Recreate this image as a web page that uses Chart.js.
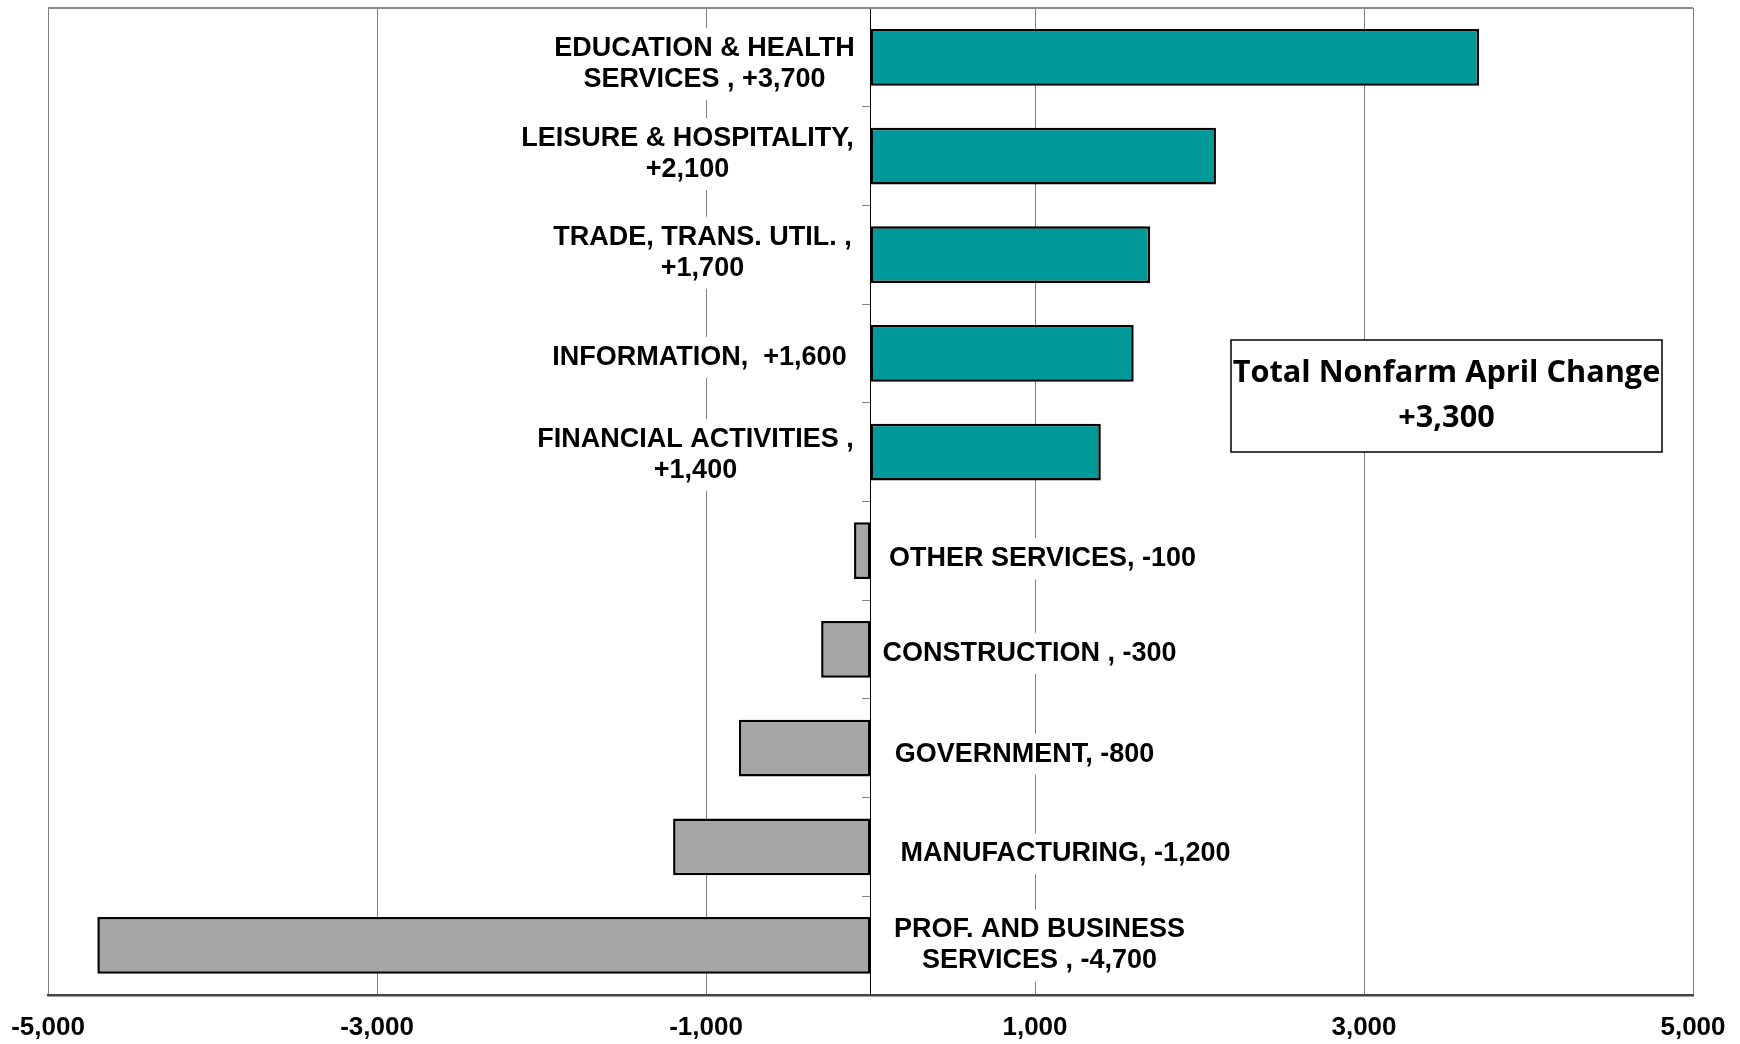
<!DOCTYPE html>
<html>
<head>
<meta charset="utf-8">
<script src="https://cdn.jsdelivr.net/npm/chart.js@4/dist/chart.umd.min.js"></script>
<style>
  html, body { margin: 0; padding: 0; background: #fff; }
  #wrap { width: 1740px; height: 1044px; position: relative; }
</style>
</head>
<body>
<div id="wrap"><canvas id="c" width="1740" height="1044"></canvas></div>
<script>
// ---- DATA ----
const categories = [
  'EDUCATION & HEALTH SERVICES', 'LEISURE & HOSPITALITY', 'TRADE, TRANS. UTIL.',
  'INFORMATION', 'FINANCIAL ACTIVITIES', 'OTHER SERVICES', 'CONSTRUCTION',
  'GOVERNMENT', 'MANUFACTURING', 'PROF. AND BUSINESS SERVICES'
];
const values = [3700, 2100, 1700, 1600, 1400, -100, -300, -800, -1200, -4700];
const labelLines = [
  ['EDUCATION & HEALTH', 'SERVICES , +3,700'],
  ['LEISURE & HOSPITALITY,', '+2,100'],
  ['TRADE, TRANS. UTIL. ,', '+1,700'],
  ['INFORMATION,  +1,600'],
  ['FINANCIAL ACTIVITIES ,', '+1,400'],
  ['OTHER SERVICES, -100'],
  ['CONSTRUCTION , -300'],
  ['GOVERNMENT, -800'],
  ['MANUFACTURING, -1,200'],
  ['PROF. AND BUSINESS', 'SERVICES , -4,700']
];
const xMin = -5000, xMax = 5000, xStep = 2000;
const totalTitle = 'Total Nonfarm April Change';
const totalValue = '+3,300';

// ---- LAYOUT / STYLE (not data) ----
const labelOffsets = [  // [dx from zero line to label block centre, dy from bar centre]
  [-166, 7], [-183, -2], [-168, -2], [-171, 4], [-175, 3],
  [172, 8], [159, 4], [154, 6], [195, 7], [169, 0]
];
const LABEL_FONT = 'bold 27px "Liberation Sans", Arial, sans-serif';
const LINE_H = 31;
const posColor = '#009999';
const negColor = '#A6A6A6';

const labelsPlugin = {
  id: 'customLabels',
  afterDatasetsDraw(chart) {
    const ctx = chart.ctx;
    const xs = chart.scales.x, ys = chart.scales.y;
    const zero = xs.getPixelForValue(0);
    ctx.save();
    ctx.font = LABEL_FONT;
    ctx.textAlign = 'center';
    ctx.textBaseline = 'middle';
    labelLines.forEach((lines, i) => {
      const cx = zero + labelOffsets[i][0];
      const cy = ys.getPixelForValue(i) + labelOffsets[i][1];
      const n = lines.length;
      let w = 0;
      lines.forEach(l => { w = Math.max(w, ctx.measureText(l).width); });
      ctx.fillStyle = '#fff';
      ctx.fillRect(cx - w / 2 - 5, cy - n * LINE_H / 2 - 5, w + 10, n * LINE_H + 10);
      ctx.fillStyle = '#000';
      lines.forEach((l, k) => {
        ctx.fillText(l, cx, cy + (k - (n - 1) / 2) * LINE_H);
      });
    });
    // Total box
    const ca = chart.chartArea;
    const bx = 1231, by = 340, bw = 431, bh = 112;
    ctx.fillStyle = '#fff';
    ctx.fillRect(bx, by, bw, bh);
    ctx.strokeStyle = '#000';
    ctx.lineWidth = 1.5;
    ctx.strokeRect(bx, by, bw, bh);
    const fam = '"Open Sans", "Liberation Sans", sans-serif';
    ctx.font = 'bold 30px ' + fam;
    const m = ctx.measureText(totalTitle).width;
    const fs = 30 * 428 / m;
    ctx.font = 'bold ' + fs.toFixed(1) + 'px ' + fam;
    ctx.fillStyle = '#000';
    ctx.fillText(totalTitle, bx + bw / 2, 373);
    ctx.fillText(totalValue, bx + bw / 2, 418);
    // top border
    ctx.strokeStyle = '#8a8a8a';
    ctx.lineWidth = 2;
    ctx.beginPath();
    ctx.moveTo(ca.left, ca.top);
    ctx.lineTo(ca.right, ca.top);
    ctx.stroke();
    ctx.restore();
  }
};

new Chart(document.getElementById('c'), {
  type: 'bar',
  data: {
    labels: categories,
    datasets: [{
      data: values,
      backgroundColor: values.map(v => v >= 0 ? posColor : negColor),
      borderColor: '#000',
      borderWidth: 2.5,
      borderSkipped: false,
      barPercentage: 0.575,
      categoryPercentage: 1.0
    }]
  },
  options: {
    indexAxis: 'y',
    responsive: false,
    animation: false,
    devicePixelRatio: 1,
    layout: { padding: { left: 48, right: 47, top: 8, bottom: -7 } },
    plugins: { legend: { display: false }, tooltip: { enabled: false } },
    scales: {
      x: {
        type: 'linear',
        min: xMin, max: xMax,
        position: 'bottom',
        ticks: {
          stepSize: xStep,
          color: '#000',
          font: { family: '"Liberation Sans", Arial, sans-serif', size: 26, weight: 'bold' },
          padding: 8,
          maxRotation: 0
        },
        grid: { color: '#808080', lineWidth: 1, drawTicks: true, tickLength: 9, tickColor: 'rgba(0,0,0,0)' },
        border: { color: '#444', width: 2.5 }
      },
      y: {
        type: 'category',
        position: { x: 0 },
        offset: true,
        ticks: { display: false },
        grid: { drawOnChartArea: false, drawTicks: true, tickLength: 8, offset: true, color: '#808080' },
        border: { color: '#000', width: 1 }
      }
    }
  },
  plugins: [labelsPlugin]
});
</script>
</body>
</html>
